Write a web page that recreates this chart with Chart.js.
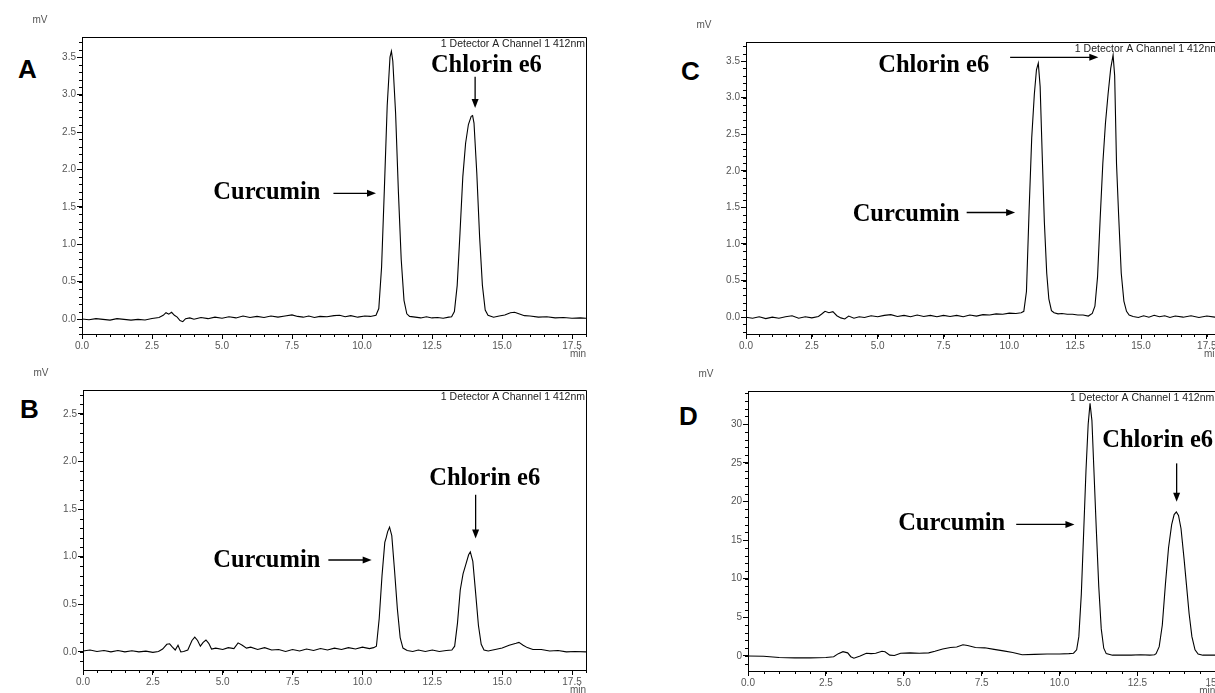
<!DOCTYPE html>
<html>
<head>
<meta charset="utf-8">
<title>HPLC chromatograms - Curcumin / Chlorin e6</title>
<script src="https://cdn.jsdelivr.net/npm/chart.js@4.4.0/dist/chart.umd.min.js"></script>
<style>
  html, body { margin: 0; padding: 0; background: #fff; width: 1215px; height: 693px; overflow: hidden; }
  canvas { position: absolute; }
  .letter { position: absolute; font: bold 26px "Liberation Sans", Arial, sans-serif; line-height: 26px; color: #000; }
</style>
</head>
<body>

<div class="letter" style="left:18px;top:56px">A</div>
<div class="letter" style="left:20px;top:396px">B</div>
<div class="letter" style="left:681px;top:58px">C</div>
<div class="letter" style="left:679px;top:403px">D</div>

<canvas id="chartA" width="584" height="357" style="left:12px;top:7px"></canvas>
<canvas id="chartB" width="583" height="340" style="left:13px;top:360px"></canvas>
<canvas id="chartC" width="554" height="352" style="left:676px;top:12px"></canvas>
<canvas id="chartD" width="548" height="340" style="left:678px;top:361px"></canvas>

<script>
// retention time (min) and detector signal (mV) for each run
var timeA = [
  0, 0.25, 0.5, 0.75, 1.0, 1.25, 1.5, 1.75, 2.0, 2.25,
  2.5, 2.75, 2.9, 3.0, 3.1, 3.2, 3.3, 3.4, 3.5, 3.6,
  3.7, 3.85, 4.0, 4.25, 4.5, 4.75, 5.0, 5.25, 5.5, 5.75,
  6.0, 6.25, 6.5, 6.75, 7.0, 7.25, 7.5, 7.7, 7.9, 8.1,
  8.3, 8.5, 8.75, 9.0, 9.2, 9.4, 9.6, 9.85, 10.1, 10.3,
  10.5, 10.6, 10.7, 10.8, 10.9, 11.0, 11.05, 11.1, 11.2, 11.3,
  11.4, 11.5, 11.6, 11.7, 11.9, 12.1, 12.3, 12.5, 12.7, 12.9,
  13.1, 13.2, 13.3, 13.4, 13.5, 13.6, 13.7, 13.8, 13.9, 13.95,
  14.0, 14.1, 14.2, 14.3, 14.4, 14.5, 14.7, 14.9, 15.1, 15.3,
  15.45, 15.6, 15.8, 16.0, 16.3, 16.6, 16.9, 17.2, 17.5, 17.8,
  18.0
];
var signalA = [
  0.00, -0.01, 0.005, -0.005, -0.015, 0.005, -0.005, -0.015, -0.005, -0.012,
  0.008, 0.02, 0.05, 0.085, 0.065, 0.09, 0.05, 0.025, -0.02, -0.035,
  0.005, 0.015, -0.002, 0.02, 0.005, 0.025, 0.01, 0.03, 0.015, 0.04,
  0.02, 0.035, 0.02, 0.04, 0.025, 0.04, 0.055, 0.035, 0.025, 0.04,
  0.02, 0.035, 0.03, 0.045, 0.05, 0.03, 0.045, 0.025, 0.04, 0.035,
  0.05, 0.14, 0.70, 1.75, 2.85, 3.50, 3.58, 3.45, 2.75, 1.70,
  0.80, 0.25, 0.07, 0.035, 0.025, 0.015, 0.03, 0.015, 0.02, 0.01,
  0.025, 0.03, 0.10, 0.45, 1.15, 1.90, 2.35, 2.60, 2.71, 2.72,
  2.62, 1.95, 1.10, 0.45, 0.12, 0.05, 0.025, 0.04, 0.055, 0.085,
  0.09, 0.07, 0.045, 0.04, 0.025, 0.03, 0.015, 0.02, 0.01, 0.015,
  0.01
];

var timeB = [
  0, 0.25, 0.5, 0.75, 1.0, 1.25, 1.5, 1.75, 2.0, 2.25,
  2.5, 2.7, 2.85, 3.0, 3.1, 3.2, 3.3, 3.4, 3.5, 3.6,
  3.75, 3.9, 4.0, 4.1, 4.2, 4.3, 4.4, 4.5, 4.6, 4.75,
  5.0, 5.2, 5.4, 5.55, 5.7, 5.85, 6.0, 6.25, 6.5, 6.75,
  7.0, 7.25, 7.5, 7.75, 8.0, 8.25, 8.5, 8.75, 9.0, 9.25,
  9.5, 9.75, 10.0, 10.25, 10.4, 10.5, 10.6, 10.7, 10.8, 10.85,
  10.9, 10.97, 11.05, 11.15, 11.25, 11.35, 11.45, 11.6, 11.8, 12.0,
  12.25, 12.5, 12.75, 13.0, 13.2, 13.3, 13.4, 13.5, 13.6, 13.7,
  13.8, 13.86, 13.95, 14.05, 14.15, 14.25, 14.35, 14.5, 14.75, 15.0,
  15.25, 15.5, 15.6, 15.75, 15.9, 16.1, 16.4, 16.7, 17.0, 17.3,
  17.6, 18.0
];
var signalB = [
  0.01, 0.02, 0.005, 0.015, 0.0, 0.015, 0.0, 0.012, 0.0, 0.008,
  -0.005, 0.005, 0.03, 0.08, 0.085, 0.05, 0.02, 0.07, 0.00, 0.005,
  0.02, 0.12, 0.155, 0.12, 0.06, 0.10, 0.125, 0.09, 0.03, 0.04,
  0.025, 0.045, 0.035, 0.095, 0.07, 0.04, 0.05, 0.025, 0.045, 0.02,
  0.025, 0.005, 0.025, 0.01, 0.03, 0.015, 0.035, 0.02, 0.04, 0.025,
  0.045, 0.03, 0.05, 0.035, 0.045, 0.06, 0.35, 0.80, 1.15, 1.20,
  1.26, 1.31, 1.22, 0.85, 0.45, 0.15, 0.04, 0.015, 0.005, 0.02,
  0.005, 0.02, 0.005, 0.015, 0.02, 0.06, 0.30, 0.65, 0.82, 0.92,
  1.02, 1.05, 0.95, 0.62, 0.28, 0.08, 0.02, 0.01, 0.025, 0.04,
  0.07, 0.09, 0.10, 0.07, 0.045, 0.025, 0.025, 0.01, 0.015, 0.0,
  0.005, 0.0
];

var timeC = [
  0, 0.25, 0.5, 0.75, 1.0, 1.25, 1.5, 1.75, 2.0, 2.25,
  2.5, 2.75, 2.9, 3.0, 3.15, 3.3, 3.45, 3.6, 3.75, 3.9,
  4.1, 4.3, 4.5, 4.75, 5.0, 5.25, 5.5, 5.75, 6.0, 6.25,
  6.5, 6.75, 7.0, 7.25, 7.5, 7.75, 8.0, 8.25, 8.5, 8.75,
  9.0, 9.25, 9.5, 9.75, 10.0, 10.25, 10.45, 10.55, 10.65, 10.75,
  10.85, 10.95, 11.03, 11.1, 11.17, 11.25, 11.33, 11.42, 11.5, 11.6,
  11.7, 11.85, 12.0, 12.2, 12.4, 12.6, 12.8, 13.0, 13.15, 13.25,
  13.35, 13.45, 13.55, 13.65, 13.75, 13.85, 13.94, 14.0, 14.07, 14.15,
  14.25, 14.35, 14.45, 14.55, 14.7, 14.9, 15.1, 15.3, 15.5, 15.7,
  15.9, 16.1, 16.3, 16.6, 16.9, 17.2, 17.5, 17.8, 18.0
];
var signalC = [
  0.00, -0.015, 0.005, -0.02, 0.00, -0.015, 0.005, 0.02, -0.015, 0.005,
  -0.01, 0.01, 0.05, 0.08, 0.06, 0.075, 0.02, -0.01, -0.025, 0.015,
  -0.015, 0.005, -0.005, 0.02, 0.005, 0.025, 0.035, 0.01, 0.025, 0.005,
  0.03, 0.01, 0.025, 0.005, 0.025, 0.01, 0.025, 0.005, 0.03, 0.015,
  0.035, 0.03, 0.045, 0.04, 0.055, 0.05, 0.06, 0.08, 0.35, 1.45,
  2.45, 3.05, 3.38, 3.47, 3.15, 2.20, 1.30, 0.60, 0.25, 0.09,
  0.06, 0.045, 0.05, 0.04, 0.04, 0.03, 0.03, 0.015, 0.05, 0.15,
  0.55, 1.35, 2.10, 2.65, 3.05, 3.40, 3.58, 3.30, 2.10, 1.40,
  0.60, 0.22, 0.08, 0.03, 0.01, -0.005, 0.02, 0.0, 0.025, 0.005,
  0.02, -0.005, 0.015, 0.0, 0.02, -0.005, 0.015, 0.0, 0.01
];

var timeD = [
  0, 0.5, 1.0, 1.5, 2.0, 2.5, 2.75, 2.9, 3.05, 3.2,
  3.3, 3.4, 3.6, 3.8, 3.95, 4.1, 4.3, 4.4, 4.55, 4.7,
  4.9, 5.2, 5.5, 5.8, 6.0, 6.25, 6.5, 6.7, 6.9, 7.05,
  7.3, 7.6, 7.9, 8.2, 8.5, 8.8, 9.2, 9.6, 10.0, 10.3,
  10.45, 10.55, 10.62, 10.7, 10.78, 10.85, 10.92, 10.98, 11.04, 11.1,
  11.18, 11.26, 11.34, 11.42, 11.5, 11.7, 12.0, 12.3, 12.6, 12.9,
  13.05, 13.1, 13.2, 13.3, 13.4, 13.5, 13.6, 13.68, 13.75, 13.82,
  13.9, 14.0, 14.08, 14.16, 14.25, 14.35, 14.45, 14.6, 14.8, 15.0
];
var signalD = [
  0.0, -0.05, -0.2, -0.25, -0.25, -0.2, -0.1, 0.3, 0.55, 0.4,
  -0.1, -0.3, 0.0, 0.35, 0.3, 0.35, 0.6, 0.55, 0.1, 0.05,
  0.35, 0.4, 0.35, 0.4, 0.6, 0.9, 1.1, 1.15, 1.45, 1.35,
  1.1, 1.05, 0.85, 0.65, 0.45, 0.15, 0.2, 0.25, 0.25, 0.3,
  0.35, 0.8, 2.5, 8.0, 16.5, 24.0, 30.0, 32.7, 30.5, 24.5,
  16.5, 9.0, 3.5, 1.0, 0.3, 0.1, 0.1, 0.1, 0.15, 0.1,
  0.15, 0.3, 1.2, 4.0, 9.3, 14.0, 17.0, 18.3, 18.65, 18.2,
  16.5, 12.5, 9.0, 5.5, 2.5, 0.8, 0.25, 0.1, 0.1, 0.1
];

// axis tick labels
var timeTicks18 = [0, 2.5, 5.0, 7.5, 10.0, 12.5, 15.0, 17.5];
var timeTicks15 = [0, 2.5, 5.0, 7.5, 10.0, 12.5, 15.0];
var mvTicksA = [0, 0.5, 1.0, 1.5, 2.0, 2.5, 3.0, 3.5];
var mvTicksB = [0, 0.5, 1.0, 1.5, 2.0, 2.5];
var mvTicksC = [0, 0.5, 1.0, 1.5, 2.0, 2.5, 3.0, 3.5];
var mvTicksD = [0, 5, 10, 15, 20, 25, 30];

var channelName = '1 Detector A Channel 1 412nm';
var curcuminLabel = 'Curcumin';
var chlorinLabel = 'Chlorin e6';

var tickFont = { family: '"Liberation Sans", Arial, sans-serif', size: 10 };

// frame, minor ticks, unit labels and peak annotations
var chromoPlugin = {
  id: 'chromo',
  afterDraw: function (chart, args, o) {
    var ctx = chart.ctx;
    var a = chart.chartArea;
    var xs = chart.scales.x;
    var ys = chart.scales.y;
    var i, v, p;

    ctx.save();
    ctx.strokeStyle = '#000';
    ctx.lineWidth = 1;

    // top and right edge of the plot box
    ctx.beginPath();
    ctx.moveTo(a.left, Math.round(a.top) + 0.5);
    ctx.lineTo(Math.round(a.right) + 0.5, Math.round(a.top) + 0.5);
    ctx.lineTo(Math.round(a.right) + 0.5, a.bottom);
    ctx.stroke();

    // minor ticks
    ctx.beginPath();
    for (i = 0; ; i++) {
      v = xs.min + i * o.xMinor;
      if (v > xs.max + 1e-9) break;
      p = Math.round(xs.getPixelForValue(v)) + 0.5;
      ctx.moveTo(p, a.bottom);
      ctx.lineTo(p, a.bottom + 3);
    }
    for (i = Math.ceil(ys.min / o.yMinor - 1e-9); ; i++) {
      v = i * o.yMinor;
      if (v > ys.max + 1e-9) break;
      p = Math.round(ys.getPixelForValue(v)) + 0.5;
      ctx.moveTo(a.left, p);
      ctx.lineTo(a.left - 3, p);
    }
    ctx.stroke();

    // unit labels and channel name
    ctx.fillStyle = '#555';
    ctx.font = '10px "Liberation Sans", Arial, sans-serif';
    ctx.textAlign = 'center';
    ctx.textBaseline = 'middle';
    ctx.fillText('mV', a.left - 42, a.top - 17);
    ctx.textAlign = 'right';
    ctx.fillText('min', a.right, a.bottom + 20);
    ctx.fillStyle = '#222';
    ctx.font = '10.5px "Liberation Sans", Arial, sans-serif';
    ctx.fillText(channelName, a.right - 1, a.top + 7);

    // peak labels with arrows
    ctx.fillStyle = '#000';
    ctx.font = 'bold 24.5px "Liberation Serif", "Times New Roman", serif';
    ctx.textAlign = 'left';
    ctx.textBaseline = 'alphabetic';
    o.notes.forEach(function (n) {
      if (n.text) {
        ctx.fillText(n.text, xs.getPixelForValue(n.x), ys.getPixelForValue(n.y));
        return;
      }
      var x1 = xs.getPixelForValue(n.x1), y1 = ys.getPixelForValue(n.y1);
      var x2 = xs.getPixelForValue(n.x2), y2 = ys.getPixelForValue(n.y2);
      var ang = Math.atan2(y2 - y1, x2 - x1);
      ctx.lineWidth = 1.3;
      ctx.beginPath();
      ctx.moveTo(x1, y1);
      ctx.lineTo(x2 - 6 * Math.cos(ang), y2 - 6 * Math.sin(ang));
      ctx.stroke();
      ctx.beginPath();
      ctx.moveTo(x2, y2);
      ctx.lineTo(x2 - 9 * Math.cos(ang) + 3.5 * Math.sin(ang), y2 - 9 * Math.sin(ang) - 3.5 * Math.cos(ang));
      ctx.lineTo(x2 - 9 * Math.cos(ang) - 3.5 * Math.sin(ang), y2 - 9 * Math.sin(ang) + 3.5 * Math.cos(ang));
      ctx.closePath();
      ctx.fill();
    });
    ctx.restore();
  }
};

function makeChromatogram(id, times, signal, cfg) {
  var ctx = document.getElementById(id).getContext('2d');
  var points = times.map(function (t, i) { return { x: t, y: signal[i] }; });

  return new Chart(ctx, {
    type: 'line',
    data: {
      datasets: [{
        data: points,
        borderColor: '#000',
        borderWidth: 1.1,
        pointRadius: 0,
        tension: 0,
        fill: false
      }]
    },
    options: {
      responsive: false,
      animation: false,
      devicePixelRatio: 1,
      layout: { padding: { top: 30, right: 10, left: 0, bottom: 0 } },
      plugins: {
        legend: { display: false },
        tooltip: { enabled: false },
        chromo: { xMinor: 0.5, yMinor: cfg.yMinor, notes: cfg.notes }
      },
      scales: {
        x: {
          type: 'linear',
          min: 0,
          max: cfg.xMax,
          afterFit: function (s) { s.height = 30; },
          afterBuildTicks: function (s) { s.ticks = cfg.xTicks.map(function (v) { return { value: v }; }); },
          ticks: {
            autoSkip: false,
            maxRotation: 0,
            padding: 1,
            color: '#555',
            font: tickFont,
            callback: function (v) { return Number(v).toFixed(1); }
          },
          grid: { drawOnChartArea: false, tickLength: 5, tickColor: '#000' },
          border: { color: '#000', width: 1 }
        },
        y: {
          type: 'linear',
          min: cfg.yMin,
          max: cfg.yMax,
          afterFit: function (s) { s.width = 70; },
          afterBuildTicks: function (s) { s.ticks = cfg.yTicks.map(function (v) { return { value: v }; }); },
          ticks: {
            autoSkip: false,
            padding: 1,
            color: '#555',
            font: tickFont,
            callback: function (v) { return Number(v).toFixed(cfg.decimals); }
          },
          grid: { drawOnChartArea: false, tickLength: 5, tickColor: '#000' },
          border: { color: '#000', width: 1 }
        }
      }
    },
    plugins: [chromoPlugin]
  });
}

makeChromatogram('chartA', timeA, signalA, {
  xMax: 18, xTicks: timeTicks18,
  yMin: -0.2, yMax: 3.77, yTicks: mvTicksA, yMinor: 0.1, decimals: 1,
  notes: [
    { text: chlorinLabel, x: 12.46, y: 3.306 },
    { x1: 14.04, y1: 3.24, x2: 14.04, y2: 2.82 },
    { text: curcuminLabel, x: 4.69, y: 1.61 },
    { x1: 8.98, y1: 1.68, x2: 10.5, y2: 1.68 }
  ]
});

makeChromatogram('chartB', timeB, signalB, {
  xMax: 18, xTicks: timeTicks18,
  yMin: -0.19, yMax: 2.75, yTicks: mvTicksB, yMinor: 0.1, decimals: 1,
  notes: [
    { text: chlorinLabel, x: 12.39, y: 1.75 },
    { x1: 14.05, y1: 1.65, x2: 14.05, y2: 1.19 },
    { text: curcuminLabel, x: 4.66, y: 0.888 },
    { x1: 8.78, y1: 0.965, x2: 10.33, y2: 0.965 }
  ]
});

makeChromatogram('chartC', timeC, signalC, {
  xMax: 18, xTicks: timeTicks18,
  yMin: -0.23, yMax: 3.76, yTicks: mvTicksC, yMinor: 0.1, decimals: 1,
  notes: [
    { text: chlorinLabel, x: 5.02, y: 3.347 },
    { x1: 10.03, y1: 3.55, x2: 13.38, y2: 3.55 },
    { text: curcuminLabel, x: 4.05, y: 1.315 },
    { x1: 8.38, y1: 1.43, x2: 10.22, y2: 1.43 }
  ]
});

makeChromatogram('chartD', timeD, signalD, {
  xMax: 15, xTicks: timeTicks15,
  yMin: -1.95, yMax: 34.3, yTicks: mvTicksD, yMinor: 1, decimals: 0,
  notes: [
    { text: curcuminLabel, x: 4.82, y: 16.28 },
    { x1: 8.61, y1: 17.02, x2: 10.48, y2: 17.02 },
    { text: chlorinLabel, x: 11.37, y: 27.0 },
    { x1: 13.76, y1: 24.93, x2: 13.76, y2: 19.95 }
  ]
});
</script>
</body>
</html>
